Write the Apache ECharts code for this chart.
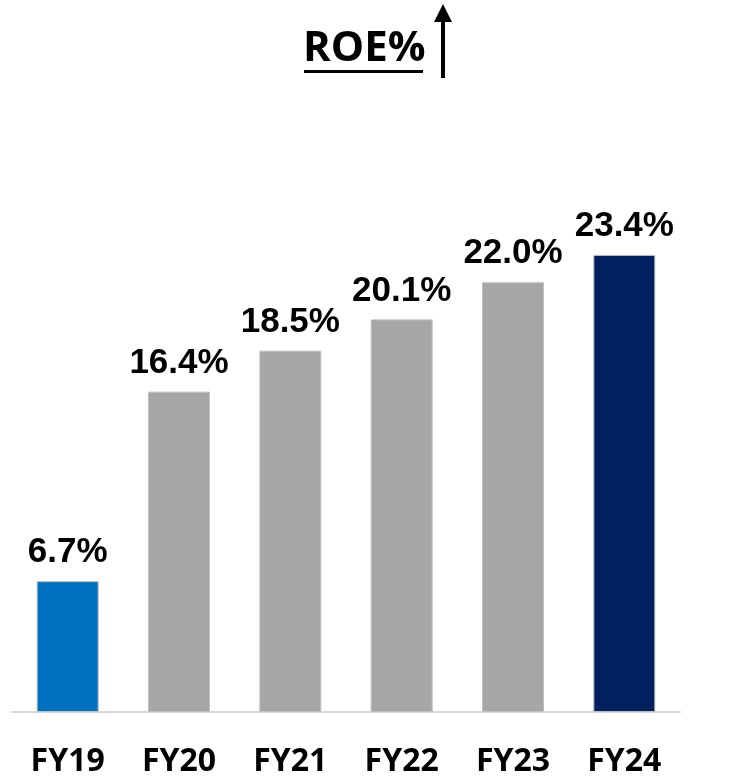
<!DOCTYPE html>
<html>
<head>
<meta charset="utf-8">
<script src="https://cdn.jsdelivr.net/npm/echarts@6/dist/echarts.min.js"></script>
<style>
  html, body { margin: 0; padding: 0; background: #fff; }
  #main { width: 755px; height: 778px; }
</style>
</head>
<body>
<div id="main"></div>
<script>
// data
var years = ['FY19', 'FY20', 'FY21', 'FY22', 'FY23', 'FY24'];
var roe = [6.7, 16.4, 18.5, 20.1, 22.0, 23.4];
var barColors = ['#0070C0', '#A6A6A6', '#A6A6A6', '#A6A6A6', '#A6A6A6', '#002060'];

var myChart = echarts.init(document.getElementById('main'));

var barData = roe.map(function (v, i) {
    return {
        value: v,
        itemStyle: { color: barColors[i] }
    };
});

var option = {
    animation: false,
    backgroundColor: '#fff',
    grid: { left: 12, right: 75, top: 126, bottom: 65 },
    xAxis: {
        type: 'category',
        data: years,
        axisLine: { lineStyle: { color: '#D9D9D9', width: 2 } },
        axisTick: { show: false },
        axisLabel: {
            margin: 34,
            color: '#000',
            fontFamily: 'Open Sans',
            fontWeight: 'bold',
            fontSize: 32
        }
    },
    yAxis: {
        type: 'value',
        min: 0,
        max: 30,
        show: false,
        splitLine: { show: false }
    },
    graphic: [
        {
            type: 'text',
            left: 303,
            top: 28,
            style: {
                text: 'ROE%',
                fill: '#000',
                font: 'bold 42px "Open Sans"'
            }
        },
        {
            type: 'rect',
            shape: { x: 304, y: 70, width: 119, height: 3 },
            style: { fill: '#000' }
        },
        {
            type: 'rect',
            shape: { x: 441, y: 20, width: 4, height: 58 },
            style: { fill: '#000' }
        },
        {
            type: 'polygon',
            shape: { points: [[443, 4], [434, 22], [452, 22]] },
            style: { fill: '#000' }
        }
    ],
    series: [
        {
            type: 'bar',
            data: barData,
            barWidth: 62,
            itemStyle: { borderColor: '#BFBFBF', borderWidth: 1 },
            label: {
                show: true,
                position: 'top',
                distance: 11,
                color: '#000',
                fontFamily: 'Liberation Sans',
                fontWeight: 'bold',
                fontSize: 35,
                formatter: function (p) {
                    return p.value.toFixed(1) + '%';
                }
            }
        }
    ]
};

myChart.setOption(option);
</script>
</body>
</html>
